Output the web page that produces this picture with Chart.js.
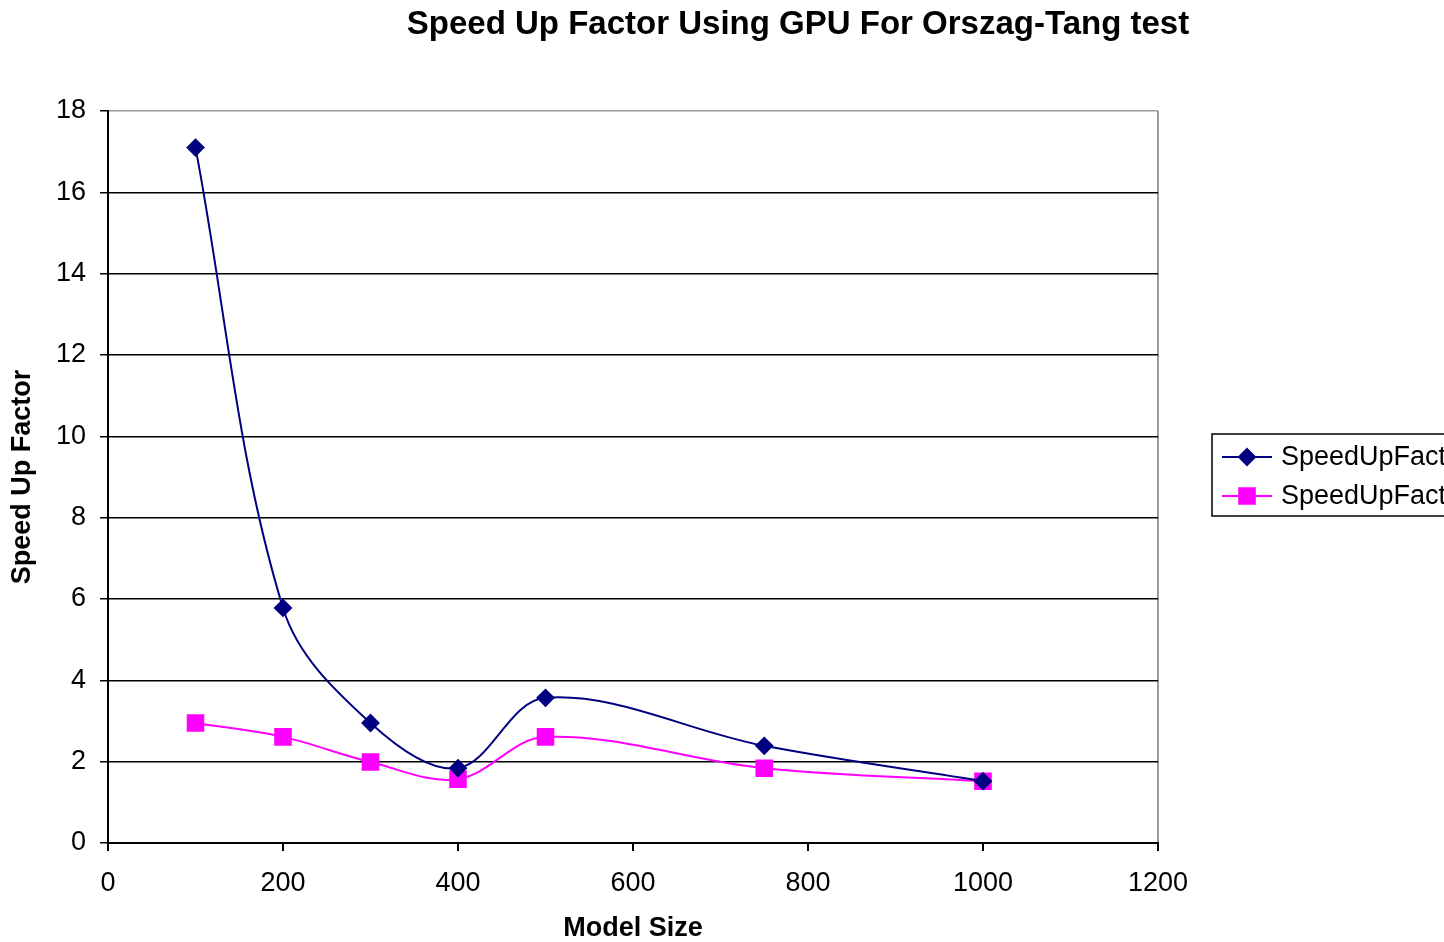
<!DOCTYPE html>
<html>
<head>
<meta charset="utf-8">
<script src="https://cdn.jsdelivr.net/npm/chart.js@4"></script>
<style>
  html, body { margin: 0; padding: 0; background: #fff; overflow: hidden; }
</style>
</head>
<body>
<canvas id="myChart" width="1596" height="942"></canvas>
<script>
// Values
const modelSizes = [100, 200, 300, 400, 500, 750, 1000];
const speedUpGpu1 = [17.1, 5.78, 2.95, 1.84, 3.57, 2.39, 1.52];
const speedUpGpu2 = [2.95, 2.61, 1.99, 1.57, 2.61, 1.84, 1.52];
const seriesNames = ["SpeedUpFactor", "SpeedUpFactor"];

const FONT = "'Liberation Sans', Arial, sans-serif";

// build {x, y} points for the linear x axis
const toPoints = (values) => values.map((v, i) => ({ x: modelSizes[i], y: v }));

// legend drawn as a boxed list on the right, like the spreadsheet one
const boxedLegend = {
  id: "boxed_legend",
  afterDraw(chart) {
    const { ctx, chartArea } = chart;
    const left = chartArea.right + 54;
    const mid = (chartArea.top + chartArea.bottom) / 2 - 2;
    const top = mid - 41;

    ctx.save();
    ctx.strokeStyle = "#000";
    ctx.lineWidth = 1.5;
    ctx.strokeRect(left, top, 330, 82);

    chart.data.datasets.forEach((ds, i) => {
      const y = top + 23 + i * 39;
      ctx.strokeStyle = ds.borderColor;
      ctx.lineWidth = 2;
      ctx.beginPath();
      ctx.moveTo(left + 10, y);
      ctx.lineTo(left + 60, y);
      ctx.stroke();

      ctx.fillStyle = ds.pointBackgroundColor;
      Chart.helpers.drawPoint(
        ctx,
        { pointStyle: ds.pointStyle, radius: ds.pointRadius, rotation: 0, borderWidth: 1 },
        left + 35,
        y
      );

      ctx.fillStyle = "#000";
      ctx.font = "27px " + FONT;
      ctx.textAlign = "left";
      ctx.textBaseline = "middle";
      ctx.fillText(ds.label, left + 69, y + 1);
    });
    ctx.restore();
  },
};

new Chart(document.getElementById("myChart"), {
  type: "line",
  data: {
    datasets: [
      {
        label: seriesNames[0],
        data: toPoints(speedUpGpu1),
        borderColor: "#000080",
        backgroundColor: "#000080",
        pointBackgroundColor: "#000080",
        pointBorderColor: "#000080",
        pointStyle: "rectRot",
        pointRadius: 8,
        borderWidth: 2,
        tension: 0.35,
      },
      {
        label: seriesNames[1],
        data: toPoints(speedUpGpu2),
        borderColor: "#ff00ff",
        backgroundColor: "#ff00ff",
        pointBackgroundColor: "#ff00ff",
        pointBorderColor: "#ff00ff",
        pointStyle: "rect",
        pointRadius: 11,
        borderWidth: 2,
        tension: 0.35,
      },
    ],
  },
  options: {
    responsive: false,
    animation: false,
    devicePixelRatio: 1,
    layout: { padding: 0 },
    scales: {
      x: {
        type: "linear",
        min: 0,
        max: 1200,
        ticks: {
          stepSize: 200,
          color: "#000",
          padding: 16,
          font: { family: FONT, size: 27 },
          callback: (v) => String(v),
        },
        grid: {
          // only the right plot border, plus black tick marks
          color: (c) => (c.tick && c.tick.value === 1200 ? "#9a9a9a" : "rgba(0,0,0,0)"),
          tickColor: "#000",
          tickLength: 8,
          lineWidth: 2,
        },
        border: { color: "#000", width: 2 },
        title: {
          display: true,
          text: "Model Size",
          color: "#000",
          font: { family: FONT, size: 27, weight: "bold", lineHeight: 1.0 },
          padding: { top: 0, bottom: 0 },
        },
        afterFit(scale) {
          scale.height = 99;
        },
      },
      y: {
        min: 0,
        max: 18,
        ticks: {
          stepSize: 2,
          color: "#000",
          padding: 14,
          font: { family: FONT, size: 27 },
        },
        grid: {
          color: (c) => (c.tick && c.tick.value === 18 ? "#9a9a9a" : "#000"),
          tickColor: "#000",
          tickLength: 8,
          lineWidth: 1.5,
        },
        border: { color: "#000", width: 2 },
        title: {
          display: true,
          text: "Speed Up Factor",
          color: "#000",
          font: { family: FONT, size: 27, weight: "bold" },
          padding: { top: 6, bottom: 0 },
        },
        afterFit(scale) {
          scale.width = 108;
        },
      },
      // empty axis on the right that only reserves room for the legend
      spacer: {
        type: "linear",
        position: "right",
        display: true,
        min: 0,
        max: 18,
        ticks: { display: false },
        grid: { display: false },
        border: { display: false },
        afterFit(scale) {
          scale.width = 438;
        },
      },
    },
    plugins: {
      legend: { display: false },
      tooltip: { enabled: false },
      title: {
        display: true,
        text: "Speed Up Factor Using GPU For Orszag-Tang test",
        color: "#000",
        font: { family: FONT, size: 33, weight: "bold" },
        padding: { top: 5, bottom: 66.4 },
      },
    },
  },
  plugins: [boxedLegend],
});
</script>
</body>
</html>
